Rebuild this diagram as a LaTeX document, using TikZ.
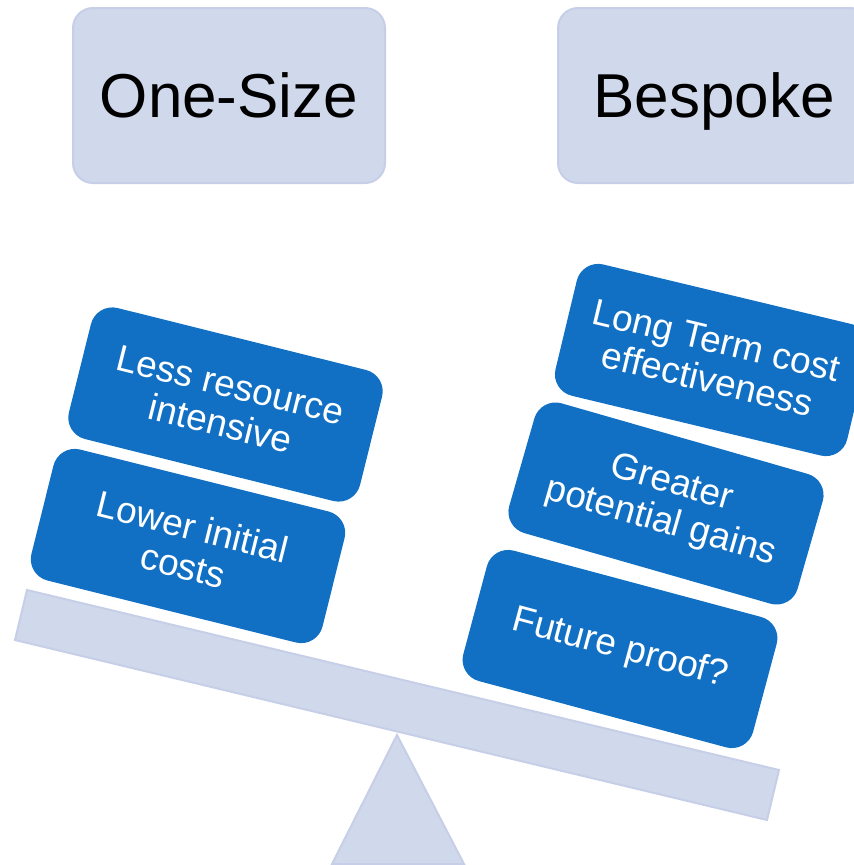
\documentclass[tikz,border=0pt]{standalone}
\usepackage{fontspec}
\setmainfont{Liberation Sans}
\usetikzlibrary{positioning}
\definecolor{headfill}{RGB}{208,216,236}
\definecolor{headline}{RGB}{198,207,231}
\definecolor{problue}{RGB}{17,112,196}

\begin{document}
\begin{tikzpicture}[x=1pt,y=-1pt,
		head/.style={draw=headline,fill=headfill,line width=2pt,rounded corners=20pt,minimum width=312pt,minimum height=175pt,text depth=0pt,font=\fontsize{62}{70}\selectfont},
		pro/.style={fill=problue,text=white,rounded corners=22pt,minimum width=300pt,minimum height=135pt,align=center,font=\fontsize{37}{40}\selectfont}]
		\clip (0,0) rectangle (854,865);
		
		\node[head] (onesize) at (229,95.5) {One-Size};
		\node[head,right=171pt of onesize] (bespoke) {Bespoke};
		
		\filldraw[fill=headfill,draw=headline,line width=2pt] (397,735) -- (464,864) -- (332,864) -- cycle;
		\filldraw[fill=headfill,draw=headline,line width=2pt] (27,590) -- (779,770) -- (767,820) -- (15,640) -- cycle;
		
		\node[pro,rotate=-14] (less) at (225.5,404.5) {Less resource\\intensive};
		\node[pro,rotate=-14] (lower) at (188,546) {Lower initial\\costs};
		\node[pro,rotate=-13.5] (longterm) at (712,360) {Long Term cost\\effectiveness};
		\node[pro,rotate=-16] (greater) at (666,503.5) {Greater\\potential gains};
		\node[pro,rotate=-15] (future) at (620,649) {Future proof?};
	\end{tikzpicture}
\end{document}
